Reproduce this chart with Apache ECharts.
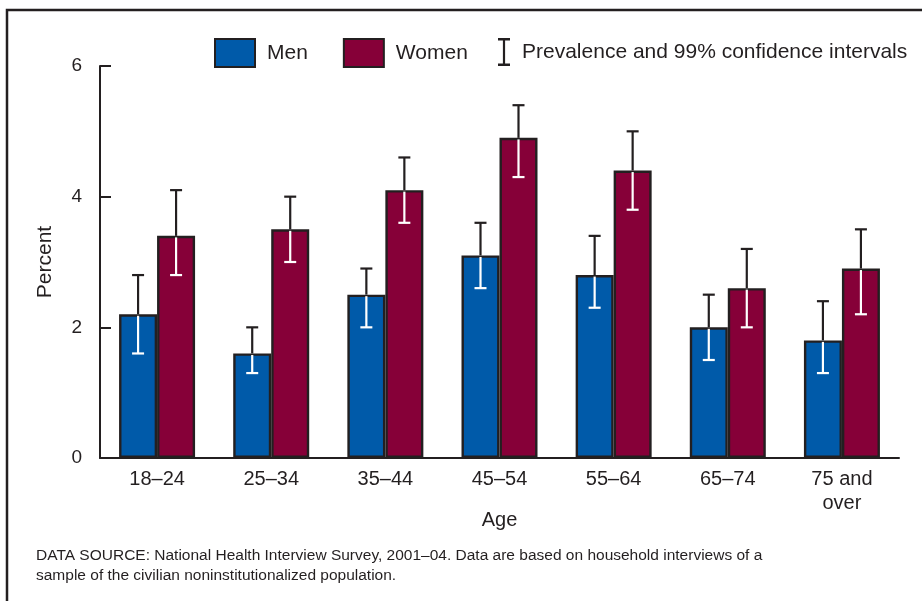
<!DOCTYPE html>
<html>
<head>
<meta charset="utf-8">
<script src="https://cdn.jsdelivr.net/npm/echarts@6/dist/echarts.min.js"></script>
<style>
  html, body { margin: 0; padding: 0; background: #fff; }
  #chart { width: 922px; height: 601px; }
</style>
</head>
<body>
<div id="chart"></div>
<script>
// Age groups and prevalence (%) with 99% confidence limits
const categories = ['18–24', '25–34', '35–44', '45–54', '55–64', '65–74', '75 and\nover'];
const menValues   = [2.2, 1.6, 2.5, 3.1, 2.8, 2.0, 1.8];
const menLower    = [1.6, 1.3, 2.0, 2.6, 2.3, 1.5, 1.3];
const menUpper    = [2.8, 2.0, 2.9, 3.6, 3.4, 2.5, 2.4];
const womenValues = [3.4, 3.5, 4.1, 4.9, 4.4, 2.6, 2.9];
const womenLower  = [2.8, 3.0, 3.6, 4.3, 3.8, 2.0, 2.2];
const womenUpper  = [4.1, 4.0, 4.6, 5.4, 5.0, 3.2, 3.5];
const yMin = 0, yMax = 6, yStep = 2;

const FONT = '"Liberation Sans", Arial, Helvetica, sans-serif';
const INK = '#231f20';
const BLUE = '#005aa9';
const MAROON = '#860038';
const BAR_W = 38;
const CI_NAME = 'Prevalence and 99% confidence intervals';

// rows: [categoryIndex, lower, value, upper, side(0 = men, 1 = women)]
const ciRows = [];
categories.forEach((c, i) => {
  ciRows.push([i, menLower[i], menValues[i], menUpper[i], 0]);
  ciRows.push([i, womenLower[i], womenValues[i], womenUpper[i], 1]);
});

// Error bar: dark above the bar top, white where it crosses the bar
function renderCI(params, api) {
  const cat = api.value(0);
  const side = api.value(4);
  const dx = side === 0 ? -BAR_W / 2 : BAR_W / 2;
  const pLo = api.coord([cat, api.value(1)]);
  const pVal = api.coord([cat, api.value(2)]);
  const pHi = api.coord([cat, api.value(3)]);
  const x = pVal[0] + dx;
  const cap = 6;
  const dark = { stroke: INK, lineWidth: 2.2 };
  const light = { stroke: '#ffffff', lineWidth: 2.2 };
  return {
    type: 'group',
    children: [
      { type: 'line', shape: { x1: x, y1: pHi[1], x2: x, y2: pVal[1] }, style: dark },
      { type: 'line', shape: { x1: x - cap, y1: pHi[1], x2: x + cap, y2: pHi[1] }, style: dark },
      { type: 'line', shape: { x1: x, y1: pVal[1] + 1.5, x2: x, y2: pLo[1] }, style: light },
      { type: 'line', shape: { x1: x - cap, y1: pLo[1], x2: x + cap, y2: pLo[1] }, style: light }
    ]
  };
}

const legendBase = {
  top: 38,
  padding: 0,
  itemWidth: 40,
  itemHeight: 28,
  itemGap: 35,
  selectedMode: false,
  textStyle: { fontFamily: FONT, fontSize: 21, color: INK, padding: [0, 0, 0, 7] }
};

const chart = echarts.init(document.getElementById('chart'), null, { renderer: 'canvas' });
chart.setOption({
  animation: false,
  backgroundColor: '#ffffff',
  textStyle: { fontFamily: FONT, color: INK },
  grid: { left: 100, right: 23, top: 66, bottom: 143 },
  legend: [
    Object.assign({}, legendBase, {
      left: 214,
      data: [{ name: 'Men', icon: 'rect' }, { name: 'Women', icon: 'rect' }]
    }),
    Object.assign({}, legendBase, {
      left: 470,
      width: 452,
      data: [{
        name: CI_NAME,
        icon: 'path://M0,14L0.01,14L0,14.01Z M28,0H40V2.4H35.1V25.6H40V28H28V25.6H32.9V2.4H28Z'
      }]
    })
  ],
  xAxis: {
    type: 'category',
    data: categories,
    name: 'Age',
    nameLocation: 'middle',
    nameGap: 52,
    nameMoveOverlap: false,
    nameTextStyle: { fontFamily: FONT, fontSize: 20, color: INK },
    axisLine: { lineStyle: { color: INK, width: 2 } },
    axisTick: { show: false },
    axisLabel: { fontFamily: FONT, fontSize: 20, color: INK, margin: 9, lineHeight: 24 }
  },
  yAxis: {
    type: 'value',
    min: yMin,
    max: yMax,
    interval: yStep,
    name: 'Percent',
    nameLocation: 'middle',
    nameGap: 44,
    nameMoveOverlap: false,
    nameRotate: 90,
    nameTextStyle: { fontFamily: FONT, fontSize: 21, color: INK },
    axisLine: { show: true, lineStyle: { color: INK, width: 2 } },
    axisTick: { show: true, inside: true, length: 11, lineStyle: { color: INK, width: 2 } },
    axisLabel: { fontFamily: FONT, fontSize: 19, color: INK, margin: 18 },
    splitLine: { show: false }
  },
  series: [
    {
      name: 'Men',
      type: 'bar',
      data: menValues,
      barWidth: BAR_W,
      barGap: '0%',
      itemStyle: { color: BLUE, borderColor: INK, borderWidth: 2.4 }
    },
    {
      name: 'Women',
      type: 'bar',
      data: womenValues,
      barWidth: BAR_W,
      itemStyle: { color: MAROON, borderColor: INK, borderWidth: 2.4 }
    },
    {
      name: CI_NAME,
      type: 'custom',
      renderItem: renderCI,
      data: ciRows,
      encode: { x: 0, y: [1, 2, 3] },
      itemStyle: { color: INK },
      z: 5
    }
  ],
  graphic: [
    {
      type: 'rect',
      shape: { x: 7, y: 10, width: 1000, height: 700 },
      style: { fill: 'none', stroke: INK, lineWidth: 2.5 },
      silent: true
    },
    {
      type: 'text',
      x: 36, y: 546,
      style: {
        text: 'DATA SOURCE: National Health Interview Survey, 2001–04. Data are based on household interviews of a\nsample of the civilian noninstitutionalized population.',
        font: '15.5px ' + FONT,
        fill: INK,
        lineHeight: 20
      }
    }
  ]
});
</script>
</body>
</html>
